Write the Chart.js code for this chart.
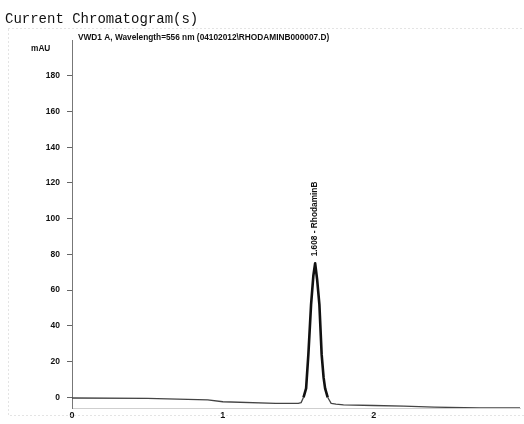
<!DOCTYPE html>
<html>
<head>
<meta charset="utf-8">
<title>Current Chromatogram(s)</title>
<script src="https://cdn.jsdelivr.net/npm/chart.js@4"></script>
<style>
  html, body { margin: 0; padding: 0; background: #fff; }
</style>
</head>
<body>
<canvas id="chrom" width="524" height="424"></canvas>
<script>
// retention time (min) and detector signal (mAU)
const times = [0, 0.5, 0.9, 1.0, 1.35, 1.5, 1.519, 1.535, 1.552, 1.567, 1.585, 1.6, 1.612, 1.625, 1.64, 1.655, 1.668, 1.678, 1.695, 1.718, 1.75, 1.8, 2.0, 2.2, 2.4, 2.7, 2.97];
const signal = [-0.4, -0.6, -1.5, -2.5, -3.4, -3.4, -3.0, 0, 5, 24, 52, 68, 75, 66, 52, 24, 11, 5, 0, -3.4, -3.8, -4.2, -4.6, -5, -5.5, -6, -6];
const xTicks = [0, 1, 2];
const yTicks = [0, 20, 40, 60, 80, 100, 120, 140, 160, 180];
const peakTime = 1.612;
const peakHeight = 75;
const peakLabel = "1.608 - RhodaminB";

const ink = "#111";
const bold = "bold 8.3px 'Liberation Sans', Arial, sans-serif";

const textPlugin = {
  id: "chemstation",
  afterDraw: function (chart) {
    var ctx = chart.ctx;
    var x = chart.scales.x, y = chart.scales.y;
    ctx.save();
    // faint page frame from the scan
    ctx.strokeStyle = "#c8c8c8";
    ctx.lineWidth = 1;
    ctx.setLineDash([1, 3]);
    ctx.strokeRect(8.5, 28.5, 530, 387);
    ctx.setLineDash([]);

    ctx.fillStyle = ink;
    ctx.textBaseline = "alphabetic";
    ctx.textAlign = "left";
    ctx.font = "14px 'Liberation Mono', 'Courier New', monospace";
    ctx.fillText("Current Chromatogram(s)", 5, 23);
    ctx.font = bold;
    ctx.fillText("VWD1 A, Wavelength=556 nm (04102012\\RHODAMINB000007.D)", 78, 40);
    ctx.fillText("mAU", 31, 51);

    // peak annotation, rotated, sitting on top of the apex
    var px = x.getPixelForValue(peakTime);
    var py = y.getPixelForValue(peakHeight);
    ctx.translate(px, py - 7);
    ctx.rotate(-Math.PI / 2);
    ctx.textBaseline = "middle";
    ctx.fillText(peakLabel, 0, 0);
    ctx.restore();
  }
};

// the peak is printed heavy, the baseline only faintly
function onPeak(c) {
  return c.p0.parsed.y > -1 && c.p1.parsed.y > -1 && c.p0.parsed.x > 1.4;
}

new Chart(document.getElementById("chrom"), {
  type: "scatter",
  data: {
    datasets: [{
      data: times.map(function (t, i) { return { x: t, y: signal[i] }; }),
      showLine: true,
      borderColor: ink,
      borderWidth: 2.6,
      borderJoinStyle: "round",
      pointRadius: 0,
      tension: 0,
      segment: {
        borderWidth: function (c) { return onPeak(c) ? 2.6 : 1.3; },
        borderColor: function (c) { return onPeak(c) ? ink : "#444"; }
      }
    }]
  },
  options: {
    responsive: false,
    animation: false,
    devicePixelRatio: 1,
    layout: { padding: { left: 0, right: 4, top: 40, bottom: 0 } },
    plugins: { legend: { display: false }, tooltip: { enabled: false } },
    scales: {
      x: {
        type: "linear",
        min: 0,
        max: 2.97,
        afterBuildTicks: function (axis) {
          axis.ticks = xTicks.map(function (v) { return { value: v }; });
        },
        afterFit: function (axis) { axis.height = 16; },
        grid: { display: false, drawTicks: false },
        border: { color: "#cfcfcf", dash: [1, 2] },
        ticks: { color: ink, font: { family: "'Liberation Sans', Arial", size: 9, weight: "bold" }, padding: 2, maxRotation: 0 }
      },
      y: {
        min: -6,
        max: 200,
        afterBuildTicks: function (axis) {
          axis.ticks = yTicks.map(function (v) { return { value: v }; });
        },
        afterFit: function (axis) { axis.width = 72; },
        grid: { drawOnChartArea: false, tickLength: 5, color: "#666" },
        border: { color: "#777", dash: [2, 2] },
        ticks: { color: ink, font: { family: "'Liberation Sans', Arial", size: 8.5, weight: "bold" }, padding: 7 }
      }
    }
  },
  plugins: [textPlugin]
});
</script>
</body>
</html>
